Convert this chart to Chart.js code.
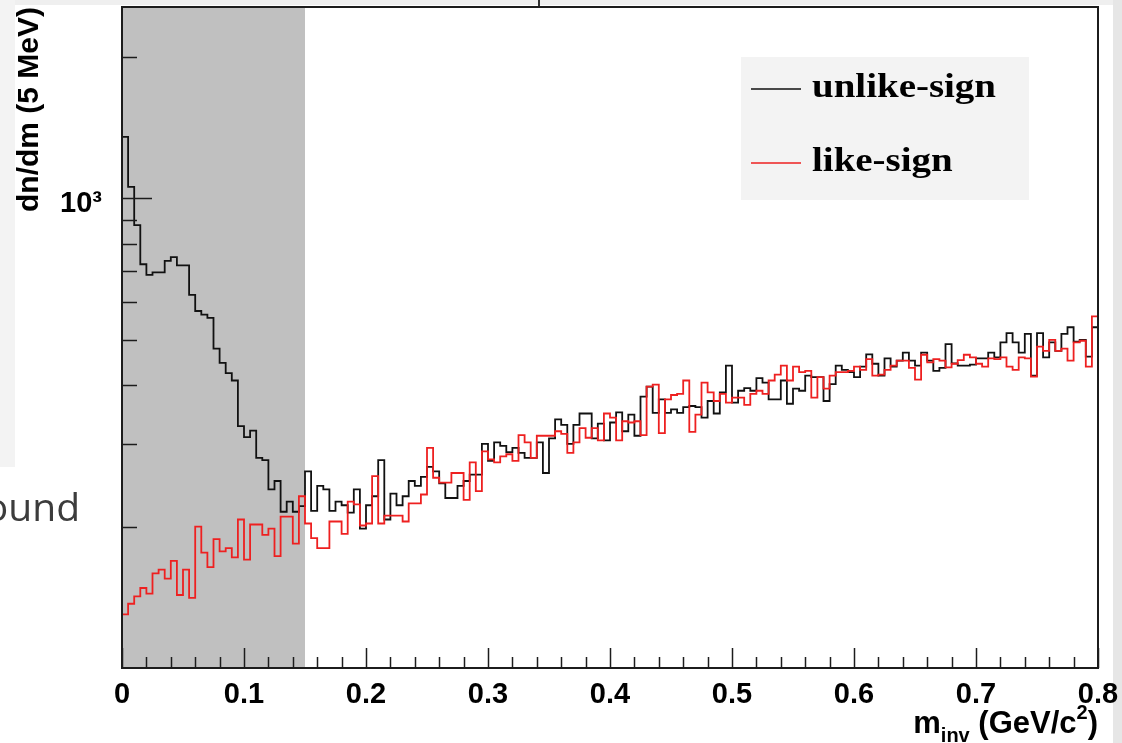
<!DOCTYPE html>
<html>
<head>
<meta charset="utf-8">
<script src="https://cdn.jsdelivr.net/npm/chart.js@4.4.1/dist/chart.umd.min.js"></script>
<style>
  html, body { margin: 0; padding: 0; background: #fff; }
  #wrap { width: 1122px; height: 743px; }
</style>
</head>
<body>
<div id="wrap"><canvas id="chart" width="1122" height="743"></canvas></div>
<script>
// 5 MeV bins from 0 to 0.8 GeV/c^2
const BIN_WIDTH = 0.005;

const unlikeSign = [
  1349, 1056, 876, 723, 686, 695, 695, 735, 749, 719,
  719, 622, 575, 565, 556, 478, 446, 424, 409, 327,
  310, 320, 280, 277, 240, 250, 215, 226, 215, 221,
  262, 216, 244, 240, 216, 226, 222, 214, 240, 198,
  222, 232, 277, 207, 235, 222, 232, 250, 244, 255,
  268, 262, 247, 230, 230, 244, 250, 258, 258, 300,
  276, 302, 297, 288, 294, 287, 280, 280, 302, 260,
  308, 338, 329, 300, 329, 348, 348, 308, 331, 305,
  333, 350, 319, 346, 312, 378, 397, 349, 373, 349,
  355, 349, 359, 361, 359, 341, 370, 348, 386, 440,
  367, 389, 394, 389, 414, 405, 373, 373, 409, 365,
  393, 389, 419, 416, 416, 370, 402, 440, 431, 426,
  416, 438, 465, 444, 419, 456, 438, 451, 469, 451,
  440, 469, 451, 429, 435, 489, 445, 440, 440, 442,
  456, 456, 469, 458, 493, 516, 493, 469, 514, 419,
  516, 458, 493, 473, 514, 531, 495, 499, 460, 531
];

const likeSign = [
  130, 137, 142, 148, 144, 159, 162, 155, 169, 143,
  162, 141, 200, 176, 164, 188, 177, 180, 172, 207,
  170, 202, 202, 192, 198, 173, 210, 210, 184, 232,
  203, 189, 180, 180, 205, 205, 193, 226, 223, 201,
  203, 256, 203, 211, 211, 211, 205, 224, 224, 234,
  294, 254, 248, 248, 260, 260, 228, 274, 238, 289,
  278, 274, 282, 285, 276, 313, 302, 280, 312, 312,
  312, 319, 315, 287, 302, 324, 309, 324, 305, 348,
  341, 305, 335, 333, 335, 313, 397, 401, 316, 373,
  381, 383, 409, 318, 346, 405, 386, 370, 383, 367,
  376, 376, 363, 383, 389, 383, 409, 421, 440, 409,
  438, 426, 429, 376, 416, 393, 419, 426, 426, 429,
  438, 431, 454, 419, 421, 431, 440, 451, 451, 435,
  411, 464, 447, 454, 451, 436, 444, 452, 464, 458,
  444, 438, 456, 454, 458, 438, 431, 458, 456, 417,
  483, 473, 499, 473, 478, 451, 493, 497, 438, 560
];

const xTickValues = [0, 0.1, 0.2, 0.3, 0.4, 0.5, 0.6, 0.7, 0.8];
const xTickLabels = ['0', '0.1', '0.2', '0.3', '0.4', '0.5', '0.6', '0.7', '0.8'];
const xMinorStep = 0.02;
const yTickValues = [200, 300, 400, 500, 600, 700, 800, 900, 1000, 2000];
const yTickLabels = { 1000: '10\u00B3' };
const shadedRange = [0, 0.15];

// histogram -> stepped line points (left bin edges + closing edge)
function toSteps(values) {
  const pts = values.map((v, i) => ({ x: i * BIN_WIDTH, y: v }));
  pts.push({ x: values.length * BIN_WIDTH, y: values[values.length - 1] });
  return pts;
}

const pageBackground = {
  id: 'pageBackground',
  beforeDraw(chart) {
    const { ctx, width, height } = chart;
    ctx.save();
    ctx.fillStyle = '#ffffff';
    ctx.fillRect(0, 0, width, height);
    // bits of the slide around the picture
    ctx.fillStyle = '#efefef';
    ctx.fillRect(0, 0, width, 5);
    ctx.fillStyle = '#f3f3f3';
    ctx.fillRect(0, 0, 15, 467);
    ctx.fillStyle = '#e6e6e6';
    ctx.fillRect(1113, 0, width - 1113, height);
    ctx.fillStyle = '#303030';
    ctx.fillRect(538, 0, 2, 6);
    ctx.fillStyle = '#3c3c3c';
    ctx.font = '39px "Open Sans"';
    ctx.textAlign = 'right';
    ctx.textBaseline = 'alphabetic';
    ctx.fillText('Background', 80, 521);
    ctx.restore();
  }
};

const shading = {
  id: 'shading',
  beforeDatasetsDraw(chart) {
    const { ctx, chartArea: { top, bottom } } = chart;
    const xs = chart.scales.x;
    const x0 = xs.getPixelForValue(shadedRange[0]);
    const x1 = xs.getPixelForValue(shadedRange[1]);
    ctx.save();
    ctx.fillStyle = '#c0c0c0';
    ctx.fillRect(x0, top, x1 - x0, bottom - top);
    ctx.restore();
  }
};

const rootFrame = {
  id: 'rootFrame',
  afterDatasetsDraw(chart) {
    const { ctx, chartArea: { left, right, top, bottom } } = chart;
    const xs = chart.scales.x, ys = chart.scales.y;
    ctx.save();
    ctx.strokeStyle = '#1c1c1c';
    ctx.lineWidth = 2;
    ctx.strokeRect(left, top, right - left, bottom - top);
    ctx.lineWidth = 1.5;
    ctx.beginPath();
    const nMinor = Math.round(xs.max / xMinorStep);
    for (let k = 0; k <= nMinor; k++) {
      const px = Math.round(xs.getPixelForValue(k * xMinorStep)) + 0.5;
      const len = k % 5 === 0 ? 20 : 11;
      ctx.moveTo(px, bottom);
      ctx.lineTo(px, bottom - len);
    }
    yTickValues.forEach(v => {
      const py = Math.round(ys.getPixelForValue(v)) + 0.5;
      const len = v === 1000 ? 30 : 15;
      ctx.moveTo(left, py);
      ctx.lineTo(left + len, py);
    });
    ctx.stroke();
    ctx.restore();
  },
  afterDraw(chart) {
    const { ctx, chartArea: { right } } = chart;
    ctx.save();
    // legend
    ctx.fillStyle = '#f3f3f3';
    ctx.fillRect(741, 57, 288, 143);
    const entries = chart.data.datasets;
    ctx.font = 'bold 33px "Liberation Serif"';
    const stretch = 184 / ctx.measureText(entries[0].label).width;
    entries.forEach((ds, i) => {
      const cy = 89 + i * 74;
      ctx.strokeStyle = ds.borderColor;
      ctx.lineWidth = 1.6;
      ctx.beginPath();
      ctx.moveTo(751, cy);
      ctx.lineTo(801, cy);
      ctx.stroke();
      ctx.save();
      ctx.translate(812, cy + 8);
      ctx.scale(stretch, 1);
      ctx.fillStyle = '#000';
      ctx.textBaseline = 'alphabetic';
      ctx.fillText(ds.label, 0, 0);
      ctx.restore();
    });
    // x-axis title with sub/superscript
    const big = 'bold 31px "Liberation Sans"', small = 'bold 20px "Liberation Sans"';
    const parts = [['m', big, 0], ['inv', small, 9], [' (GeV/c', big, 0], ['2', small, -14], [')', big, 0]];
    let total = 0;
    parts.forEach(p => { ctx.font = p[1]; total += ctx.measureText(p[0]).width; });
    let x = right - total;
    ctx.fillStyle = '#000';
    ctx.textBaseline = 'alphabetic';
    ctx.textAlign = 'left';
    parts.forEach(p => {
      ctx.font = p[1];
      ctx.fillText(p[0], x, 733 + p[2]);
      x += ctx.measureText(p[0]).width;
    });
    ctx.restore();
  }
};

const axisFont = (size) => ({ family: '"Liberation Sans", Arial, sans-serif', weight: 'bold', size });

new Chart(document.getElementById('chart'), {
  type: 'line',
  data: {
    datasets: [
      {
        label: 'unlike-sign',
        data: toSteps(unlikeSign),
        borderColor: '#111111',
        borderWidth: 1.8,
        stepped: 'before',
        pointRadius: 0,
        fill: false,
        order: 1
      },
      {
        label: 'like-sign',
        data: toSteps(likeSign),
        borderColor: '#ee2020',
        borderWidth: 1.8,
        stepped: 'before',
        pointRadius: 0,
        fill: false,
        order: 0
      }
    ]
  },
  options: {
    responsive: false,
    animation: false,
    devicePixelRatio: 1,
    layout: { padding: { top: 7, right: 24, left: 0, bottom: 0 } },
    plugins: {
      legend: { display: false },
      tooltip: { enabled: false }
    },
    scales: {
      x: {
        type: 'linear',
        min: 0,
        max: 0.8,
        grid: { display: false },
        border: { display: false },
        afterBuildTicks: s => { s.ticks = xTickValues.map(v => ({ value: v })); },
        afterFit: s => { s.height = 75; s.paddingLeft = 0; s.paddingRight = 0; },
        ticks: {
          autoSkip: false,
          maxRotation: 0,
          padding: 2,
          color: '#000',
          font: axisFont(29),
          callback: (v, i) => xTickLabels[i]
        }
      },
      y: {
        type: 'logarithmic',
        min: 100,
        max: 2550,
        grid: { display: false },
        border: { display: false },
        afterBuildTicks: s => { s.ticks = yTickValues.map(v => ({ value: v })); },
        afterFit: s => { s.width = 122; s.paddingTop = 0; s.paddingBottom = 0; },
        ticks: {
          autoSkip: false,
          padding: 12,
          labelOffset: 6,
          color: '#000',
          font: axisFont(29),
          callback: v => yTickLabels[v] || ''
        },
        title: {
          display: true,
          text: 'dn/dm (5 MeV)',
          align: 'end',
          color: '#000',
          font: axisFont(30),
          padding: { top: 12, bottom: 0 }
        }
      }
    }
  },
  plugins: [pageBackground, shading, rootFrame]
});
</script>
</body>
</html>
